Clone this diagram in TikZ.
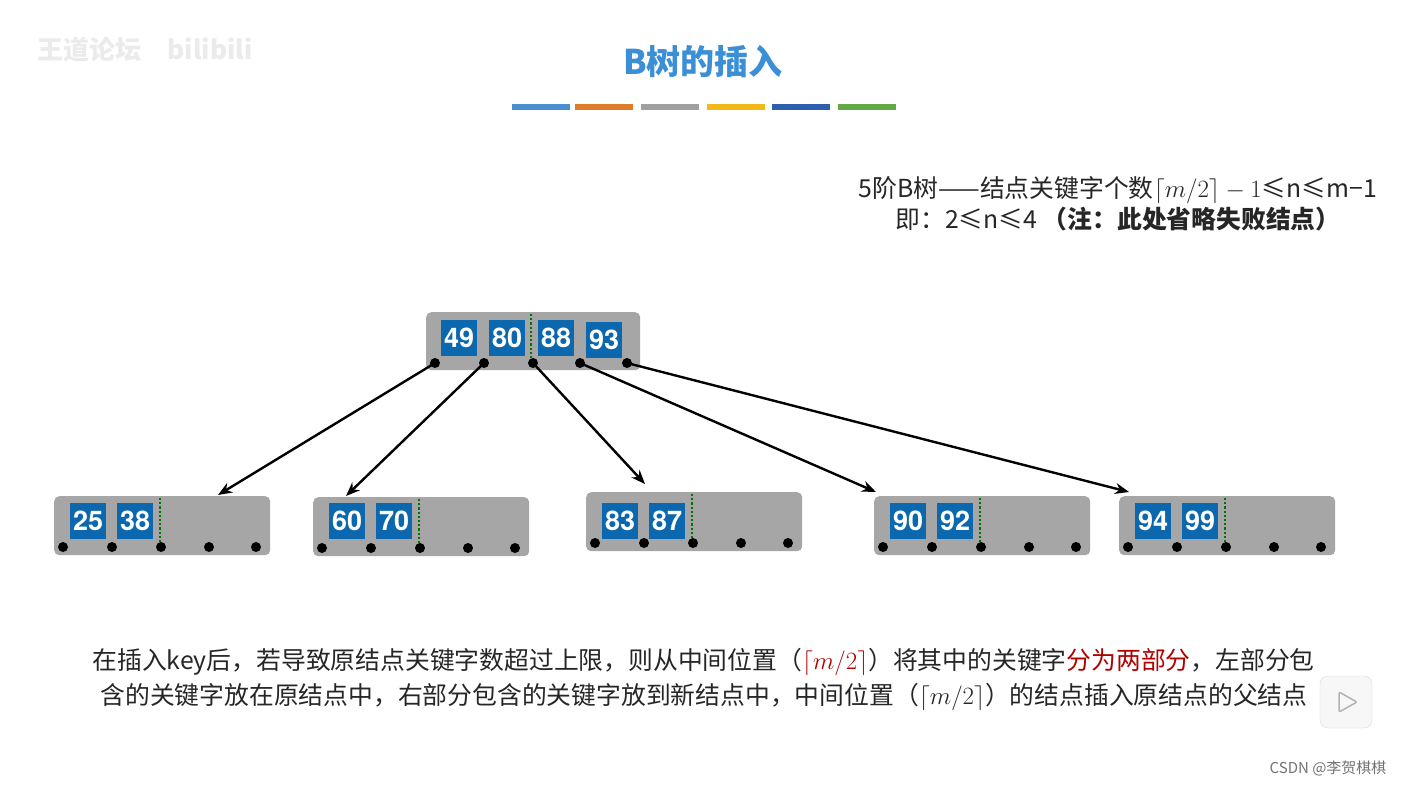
\documentclass[tikz,border=0pt]{standalone}
\usepackage{fontspec}
\setmainfont{Noto Sans CJK SC}
\newfontfamily\keyfont{TeX Gyre Heros}
\usetikzlibrary{arrows.meta}
\definecolor{keyblue}{HTML}{0B68AE}
\definecolor{nodegray}{HTML}{A6A6A6}
\definecolor{titleblue}{HTML}{3A8FD6}
\definecolor{dred}{HTML}{B00000}
\tikzset{
  bnode/.style={fill=nodegray,rounded corners=5pt,draw=none},
  key/.style={fill=keyblue,text=white,minimum width=36pt,minimum height=36pt,inner sep=0pt,font=\fontsize{27}{27}\selectfont\keyfont\bfseries},
  ptr/.style={circle,fill=black,inner sep=0pt,minimum size=10pt},
  split/.style={draw=green!45!black,dotted,line width=2.2pt},
  arr/.style={-{Stealth[length=14pt,width=11pt]},line width=2.4pt},
  txt/.style={font=\fontsize{24.8}{24.8}\selectfont,text=black!85},
}
\newcommand{\bleaf}[6]{% name, x0, y0, k1, k2, dy
  \node[bnode,minimum width=216pt,minimum height=59pt,anchor=north west,inner sep=0pt] (#1) at (#2,#3) {};
  \node[key,anchor=north west] (#1k1) at (#2+16,#3+#6) {#4};
  \node[key,anchor=north west] (#1k2) at (#2+63,#3+#6) {#5};
  \draw[split] (#2+106,#3+2) -- (#2+106,#3+49);
  \foreach \i/\dx in {1/9,2/58,3/107,4/155,5/202}{
    \node[ptr] (#1p\i) at (#2+\dx,#3+51) {};
  }
}
\begin{document}
\begin{tikzpicture}[x=1pt,y=-1pt]
\useasboundingbox[fill=white] (0,0) rectangle (1404,788);
\node[font=\fontsize{26}{26}\selectfont\bfseries,text=black!8] (wm) at (145,50) {王道论坛\quad bilibili};
\node[font=\fontsize{34}{34}\selectfont\bfseries,text=titleblue] (title) at (703,62) {B树的插入};
\foreach \x/\c in {512/4A90D0,575/E07B2A,641/A0A0A0,707/F2B817,772/2E5FAE,838/62A844}{
  \definecolor{bar}{HTML}{\c}
  \fill[bar] (\x,104) rectangle (\x+58,110);
}
\node[txt,align=center] (desc) at (1118,204) {5阶B树——结点关键字个数$\lceil m/2\rceil-1$≤n≤m−1\\[2pt]即：2≤n≤4 \textbf{（注：此处省略失败结点）}};
\node[bnode,minimum width=214pt,minimum height=58pt,anchor=north west,inner sep=0pt] (root) at (426,312) {};
\node[key,anchor=north west] (r1) at (441,320) {49};
\node[key,anchor=north west] (r2) at (489,320) {80};
\node[key,anchor=north west] (r3) at (538,320) {88};
\node[key,anchor=north west] (r4) at (586,322) {93};
\draw[split] (531,314) -- (531,361);
\foreach \i/\x in {1/435,2/484,3/533,4/580,5/627}{ \node[ptr] (rp\i) at (\x,363) {}; }
\bleaf{a}{54}{496}{25}{38}{7}
\bleaf{b}{313}{497}{60}{70}{6}
\bleaf{c}{586}{492}{83}{87}{11}
\bleaf{d}{874}{496}{90}{92}{7}
\bleaf{e}{1119}{496}{94}{99}{7}
\coordinate (ta) at (218,495);
\coordinate (tb) at (346,496);
\coordinate (tc) at (645,484);
\coordinate (td) at (876,492);
\coordinate (te) at (1129,492);
\draw[arr] (rp1.center) -- (ta);
\draw[arr] (rp2.center) -- (tb);
\draw[arr] (rp3.center) -- (tc);
\draw[arr] (rp4.center) -- (td);
\draw[arr] (rp5.center) -- (te);
\node[txt,anchor=west] (l1) at (89,662) {在插入key后，若导致原结点关键字数超过上限，则从中间位置（\textcolor{dred}{$\lceil m/2\rceil$}）将其中的关键字\textcolor{dred}{分为两部分}，左部分包};
\node[txt,anchor=west] (l2) at (97,697) {含的关键字放在原结点中，右部分包含的关键字放到新结点中，中间位置（$\lceil m/2\rceil$）的结点插入原结点的父结点};
\node[draw=black!15,fill=black!3,rounded corners=8pt,minimum width=52pt,minimum height=52pt] (play) at (1346,702) {};
\draw[black!30,line width=1.5pt,rounded corners=2pt] (1339,692) -- (1357,702) -- (1339,712) -- cycle;
\node[font=\fontsize{15}{15}\selectfont,text=black!55,anchor=east] (csdn) at (1390,768) {CSDN @李贺棋棋};
\end{tikzpicture}
\end{document}
